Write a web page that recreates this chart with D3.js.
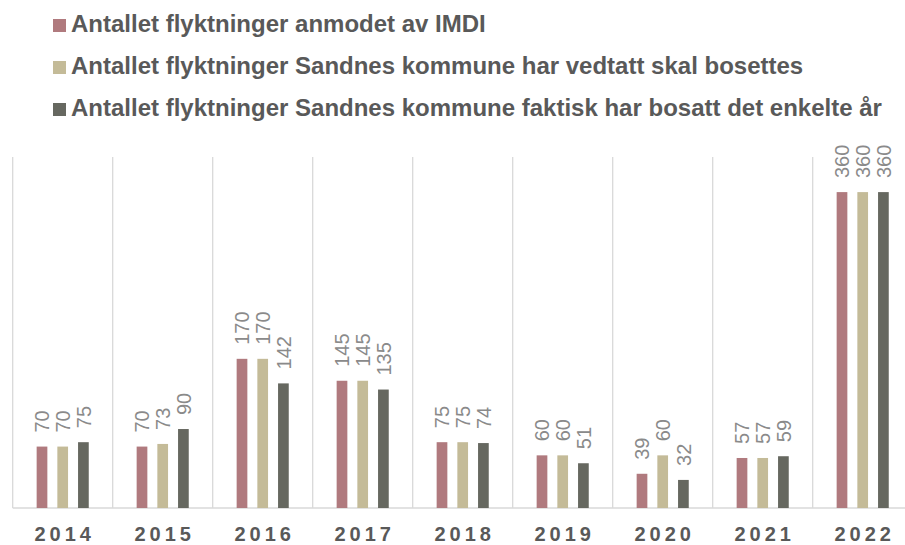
<!DOCTYPE html>
<html>
<head>
<meta charset="utf-8">
<script src="https://cdn.jsdelivr.net/npm/d3@7"></script>
<style>
  html, body { margin: 0; padding: 0; background: #fff; }
  svg { display: block; }
</style>
</head>
<body>
<svg id="chart" width="905" height="545"></svg>
<script>
const years = ["2014","2015","2016","2017","2018","2019","2020","2021","2022"];
const seriesNames = [
  "Antallet flyktninger anmodet av IMDI",
  "Antallet flyktninger Sandnes kommune har vedtatt skal bosettes",
  "Antallet flyktninger Sandnes kommune faktisk har bosatt det enkelte år"
];
const anmodet = [70, 70, 170, 145, 75, 60, 39, 57, 360];
const vedtatt = [70, 73, 170, 145, 75, 60, 60, 57, 360];
const bosatt  = [75, 90, 142, 135, 74, 51, 32, 59, 360];
const colors = ["#B07A7E", "#C4BB98", "#666860"];

const seriesValues = [anmodet, vedtatt, bosatt];
const svg = d3.select("#chart");

const x = d3.scaleBand().domain(years).range([12.7, 912.7]).padding(0);
const y = d3.scaleLinear().domain([0, 400]).range([508, 157]);
const inner = d3.scaleBand().domain([0,1,2]).range([-31.05, 31.05]).paddingInner(0.483).paddingOuter(0.2415);

// vertical gridlines at category boundaries
const bounds = years.map(d => x(d));
svg.append("g").selectAll("line").data(bounds).join("line")
  .attr("x1", d => d).attr("x2", d => d)
  .attr("y1", y(400)).attr("y2", y(0))
  .attr("stroke", "#d9d9d9").attr("stroke-width", 1.3);

// baseline
svg.append("line")
  .attr("x1", x.range()[0]).attr("x2", 905)
  .attr("y1", y(0)).attr("y2", y(0))
  .attr("stroke", "#d9d9d9").attr("stroke-width", 1.3);

// bars
const groups = svg.append("g").selectAll("g").data(years).join("g")
  .attr("transform", d => `translate(${x(d) + x.bandwidth()/2},0)`);

groups.each(function(yr, i) {
  const g = d3.select(this);
  seriesValues.forEach((vals, s) => {
    const v = vals[i];
    g.append("rect")
      .attr("x", inner(s)).attr("width", inner.bandwidth())
      .attr("y", y(v)).attr("height", y(0) - y(v))
      .attr("fill", colors[s]);
    const cx = inner(s) + inner.bandwidth()/2;
    g.append("text")
      .attr("transform", `translate(${cx},${y(v) - 14}) rotate(-90)`)
      .attr("dy", "0.36em")
      .attr("text-anchor", "start")
      .attr("font-family", "Liberation Sans, Arial, sans-serif")
      .attr("font-size", 20)
      .attr("fill", "#8a8a8a")
      .text(v);
  });
});

// x axis labels
const xAxis = d3.axisBottom(x).tickSize(0).tickPadding(0);
const ax = svg.append("g").attr("transform", `translate(0,${y(0)})`).call(xAxis);
ax.select(".domain").remove();
ax.selectAll("text")
  .attr("y", 33).attr("dy", 0)
  .attr("font-family", "Liberation Sans, Arial, sans-serif")
  .attr("font-size", 20)
  .attr("font-weight", "bold")
  .attr("letter-spacing", "4px")
  .attr("fill", "#595959")
  .attr("dx", "2px");

// legend
const legend = svg.append("g").selectAll("g").data(seriesNames).join("g")
  .attr("transform", (d, i) => `translate(53,${32 + i*42})`);
legend.append("rect").attr("x", 0).attr("y", -13).attr("width", 13).attr("height", 13)
  .attr("fill", (d, i) => colors[i]);
legend.append("text").attr("x", 18).attr("y", 0)
  .attr("font-family", "Liberation Sans, Arial, sans-serif")
  .attr("font-size", 24)
  .attr("font-weight", "bold")
  .attr("fill", "#595959")
  .text(d => d);
</script>
</body>
</html>
